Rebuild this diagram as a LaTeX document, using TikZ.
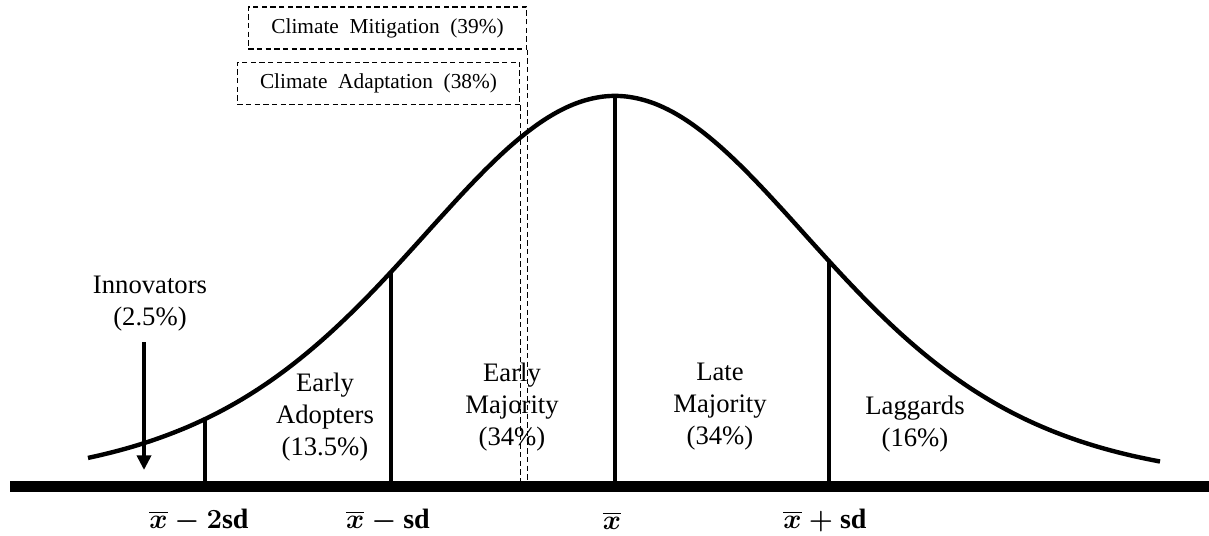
\documentclass[tikz,border=0pt]{standalone}
\usepackage{amsmath,amssymb}
\usepackage{fontspec}
\setmainfont{Liberation Serif}
\usetikzlibrary{arrows.meta,positioning,calc}

\begin{document}
\begin{tikzpicture}[x=0.75pt,y=-0.75pt,
  declare function={bell(\p)=486-390*exp(-4.6*ln(1+((\p-615)/600)*((\p-615)/600)));},
  grouplbl/.style={align=center,font=\fontsize{20}{24}\selectfont},
  sdlbl/.style={font=\fontsize{21}{24}\selectfont\boldmath},
  sdline/.style={line width=2.4pt},
  dashbox/.style={draw,dash pattern=on 4pt off 2.5pt,line width=0.9pt,inner sep=0pt,
    font=\fontsize{16}{19}\selectfont},
  dashline/.style={dash pattern=on 4pt off 2.5pt,line width=0.9pt}]
  \useasboundingbox (0,0) rectangle (1209,535);
  \coordinate (axl) at (10,486);
  \coordinate (axr) at (1209,486);
  \draw[line width=3.3pt,domain=88:1160,samples=120,smooth]
    plot (\x,{bell(\x)});
  \foreach \xs/\nm in {205/lotwo,391/loone,615/mid,829/hione}{
    \coordinate (\nm) at (\xs,486);
    \draw[sdline] (\nm) -- (\xs,{bell(\xs)});
  }
  \node[grouplbl] (innov) at (150,304) {Innovators\\(2.5\%)};
  \node[grouplbl] (adopt) at (325,417) {Early\\Adopters\\(13.5\%)};
  \node[grouplbl] (emaj) at (512,407) {Early\\Majority\\(34\%)};
  \node[grouplbl] (lmaj) at (720,407) {Late\\Majority\\(34\%)};
  \node[grouplbl] (lagg) at (915,424) {Laggards\\(16\%)};
  \coordinate (arrtop) at (144,342);
  \coordinate (arrtip) at (144,470);
  \draw[line width=3pt,-{Triangle[width=10.5pt,length=11pt]}] (arrtop) -- (arrtip);
  \node[dashbox,minimum width=209pt,minimum height=31.5pt] (mitig) at (387.5,28)
    {Climate~~Mitigation~~(39\%)};
  \node[dashbox,minimum width=212pt,minimum height=32pt] (adapt) at (378.5,83.5)
    {Climate~~Adaptation~~(38\%)};
  \draw[dashline] (mitig.south east) -- (mitig.south east |- mid);
  \draw[dashline] (adapt.south east) -- (adapt.south east |- mid);
  \draw[line width=8.25pt] (axl) -- (axr);
  \node[sdlbl] (lblotwo) at (199,521) {$\overline{x}-2\mathrm{sd}$};
  \node[sdlbl] (lbloone) at (388,521) {$\overline{x}-\mathrm{sd}$};
  \node[sdlbl] (lbmid) at (612,521) {$\overline{x}$};
  \node[sdlbl] (lbhione) at (825,521) {$\overline{x}+\mathrm{sd}$};
\end{tikzpicture}
\end{document}
